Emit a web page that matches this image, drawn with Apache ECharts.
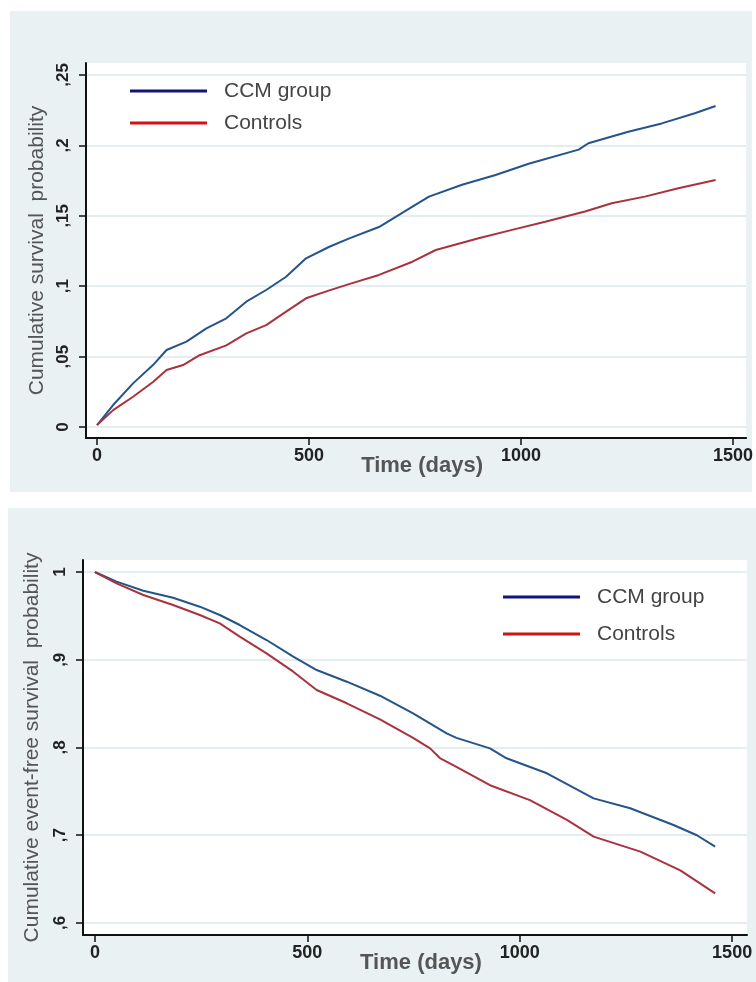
<!DOCTYPE html>
<html>
<head>
<meta charset="utf-8">
<script src="https://cdn.jsdelivr.net/npm/echarts@6/dist/echarts.min.js"></script>
<style>
  html, body { margin: 0; padding: 0; background: #fff; }
  #chart { width: 756px; height: 982px; }
</style>
</head>
<body>
<div id="chart"></div>
<script>
// Top panel: cumulative (failure) probability
const topCcmDays = [0, 38, 85, 132, 164, 211, 258, 305, 352, 399, 446, 493, 548, 595, 665, 744, 783, 861, 940, 1018, 1136, 1159, 1253, 1332, 1410, 1459];
const topCcmValues = [0.0014, 0.0156, 0.031, 0.044, 0.0547, 0.0606, 0.070, 0.0772, 0.089, 0.0973, 0.1067, 0.1198, 0.128, 0.134, 0.142, 0.1565, 0.1636, 0.172, 0.179, 0.187, 0.197, 0.2015, 0.2097, 0.2156, 0.2228, 0.228];
const topCtrlDays = [0, 38, 85, 132, 164, 203, 242, 305, 352, 399, 446, 493, 548, 600, 665, 744, 799, 900, 979, 1057, 1151, 1214, 1292, 1371, 1459];
const topCtrlValues = [0.0014, 0.012, 0.0215, 0.032, 0.0405, 0.044, 0.051, 0.058, 0.0665, 0.0724, 0.0819, 0.0914, 0.097, 0.102, 0.108, 0.1174, 0.1257, 0.134, 0.140, 0.1458, 0.153, 0.1589, 0.1636, 0.1695, 0.1754];

// Bottom panel: event-free survival
const botCcmDays = [0, 51, 114, 184, 247, 294, 341, 404, 467, 522, 593, 671, 749, 828, 851, 930, 969, 1064, 1174, 1260, 1362, 1417, 1460];
const botCcmValues = [1, 0.989, 0.9787, 0.9707, 0.9605, 0.951, 0.9396, 0.9225, 0.9035, 0.8883, 0.875, 0.859, 0.839, 0.816, 0.811, 0.799, 0.7877, 0.7706, 0.742, 0.7307, 0.7117, 0.70, 0.687];
const botCtrlDays = [0, 51, 114, 184, 247, 294, 341, 404, 467, 522, 593, 671, 749, 789, 812, 851, 930, 1024, 1111, 1174, 1284, 1378, 1460];
const botCtrlValues = [1, 0.987, 0.9738, 0.9624, 0.951, 0.9415, 0.9263, 0.9073, 0.8864, 0.8655, 0.8504, 0.832, 0.811, 0.799, 0.788, 0.778, 0.757, 0.740, 0.7174, 0.6984, 0.6813, 0.660, 0.6338];

const xTicks = [0, 500, 1000, 1500];
const topYTicks = [0, 0.05, 0.1, 0.15, 0.2, 0.25];
const botYTicks = [0.6, 0.7, 0.8, 0.9, 1];
const seriesNames = ['CCM group', 'Controls'];

const FONT = "'Liberation Sans', Arial, sans-serif";
const PANEL = '#e9f1f3';
const GRIDLINE = '#e4eef1';
const BLUE = '#245489';
const RED = '#a8323e';

const zip = (xs, ys) => xs.map((x, i) => [x, ys[i]]);
const fmtY = v => (v === 0 ? '0' : v === 1 ? '1' : String(v).replace(/^0\./, ','));

function xAxis(gridIndex, min, max) {
  return {
    type: 'value', gridIndex, min, max,
    name: 'Time (days)', nameLocation: 'middle', nameGap: 17, nameMoveOverlap: false,
    nameTextStyle: { fontFamily: FONT, fontSize: 22, fontWeight: 'bold', color: '#555', padding: [0, 0, 0, 12] },
    axisLine: { show: true, onZero: false, lineStyle: { color: '#111', width: 2 } },
    axisTick: { show: true, length: 7, customValues: xTicks, lineStyle: { color: '#111', width: 1.5 } },
    axisLabel: { customValues: xTicks, margin: 9, formatter: v => String(v), fontFamily: FONT, fontSize: 18, fontWeight: 'bold', color: '#222' },
    splitLine: { show: false }
  };
}

function yAxis(gridIndex, min, max, ticks, name, nameGap) {
  return {
    type: 'value', gridIndex, min, max,
    name, nameLocation: 'middle', nameGap, nameRotate: 90, nameMoveOverlap: false,
    nameTextStyle: { fontFamily: FONT, fontSize: 21, color: '#555' },
    axisLine: { show: true, onZero: false, lineStyle: { color: '#111', width: 2 } },
    axisTick: { show: true, length: 7, customValues: ticks, lineStyle: { color: '#111', width: 1.5 } },
    axisLabel: { customValues: ticks, rotate: 90, margin: 14, formatter: fmtY, fontFamily: FONT, fontSize: 17, fontWeight: 'bold', color: '#222' },
    splitLine: { show: true, lineStyle: { color: GRIDLINE, width: 2 } }
  };
}

function legend(left, top, gap) {
  return {
    orient: 'vertical', left, top, padding: 0, itemGap: gap,
    icon: 'rect', itemWidth: 77, itemHeight: 3,
    textStyle: { fontFamily: FONT, fontSize: 21, color: '#444', lineHeight: 24, padding: [0, 0, 0, 12] },
    data: [
      { name: seriesNames[0], itemStyle: { color: '#141478' } },
      { name: seriesNames[1], itemStyle: { color: '#d01212' } }
    ],
    selectedMode: false
  };
}

function line(name, color, xi, data) {
  return {
    type: 'line', name, xAxisIndex: xi, yAxisIndex: xi, data,
    showSymbol: false, symbol: 'none', color,
    lineStyle: { color, width: 2 }
  };
}

const chart = echarts.init(document.getElementById('chart'), null, { renderer: 'canvas' });
chart.setOption({
  animation: false,
  backgroundColor: '#fff',
  graphic: [
    { type: 'rect', z: -10, shape: { x: 10, y: 11, width: 742, height: 481 }, style: { fill: PANEL } },
    { type: 'rect', z: -10, shape: { x: 8, y: 508, width: 748, height: 474 }, style: { fill: PANEL } }
  ],
  grid: [
    { left: 86, top: 63, width: 662, height: 375, show: true, backgroundColor: '#fff', borderWidth: 0 },
    { left: 83, top: 560, width: 664, height: 375, show: true, backgroundColor: '#fff', borderWidth: 0 }
  ],
  xAxis: [xAxis(0, -26, 1531), xAxis(1, -28, 1535)],
  yAxis: [
    yAxis(0, -0.0078, 0.2585, topYTicks, 'Cumulative survival  probability', 38),
    yAxis(1, 0.5863, 1.0137, botYTicks, 'Cumulative event-free survival  probability', 40)
  ],
  legend: [legend(130, 79, 8), legend(503, 585, 13)],
  series: [
    line(seriesNames[0], BLUE, 0, zip(topCcmDays, topCcmValues)),
    line(seriesNames[1], RED, 0, zip(topCtrlDays, topCtrlValues)),
    line(seriesNames[0], BLUE, 1, zip(botCcmDays, botCcmValues)),
    line(seriesNames[1], RED, 1, zip(botCtrlDays, botCtrlValues))
  ]
});
</script>
</body>
</html>
